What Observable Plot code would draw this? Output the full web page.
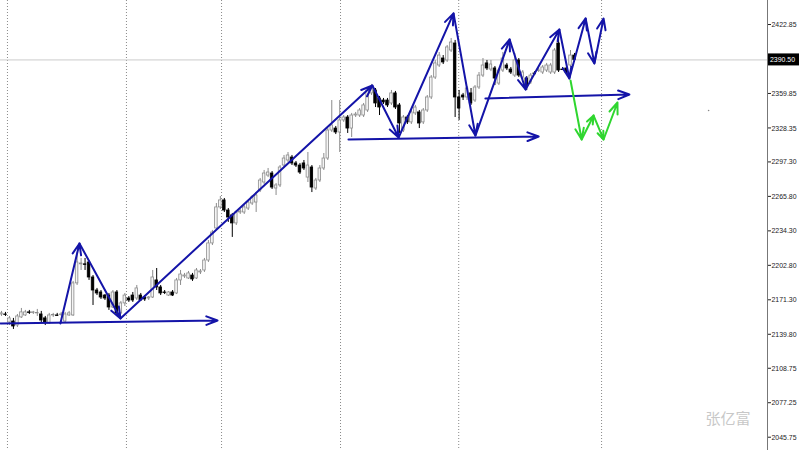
<!DOCTYPE html>
<html>
<head>
<meta charset="utf-8">
<script src="https://cdn.jsdelivr.net/npm/d3@7"></script>
<script src="https://cdn.jsdelivr.net/npm/@observablehq/plot@0.6"></script>
<style>
  html, body { margin: 0; padding: 0; background: #ffffff; overflow: hidden; }
  svg { display: block; }
</style>
</head>
<body>
<div id="chart"></div>
<script>
// ---- candle data (OHLC) ----
const open = [2157.9,2157.9,2150.6,2151.5,2147.8,2155.2,2157.0,2159.8,2159.3,2158.9,2157.9,2154.3,2149.7,2157.0,2157.0,2157.5,2151.5,2157.0,2157.0,2186.3,
2203.7,2203.7,2205.4,2191.7,2179.8,2178.0,2175.2,2175.2,2164.3,2178.0,2158.9,2168.0,2172.5,2175.2,2172.5,2175.2,2173.4,2172.5,2173.4,2189.0,
2182.6,2178.0,2175.2,2178.0,2177.1,2189.0,2192.6,2190.8,2193.5,2190.8,2196.3,2198.1,2207.2,2222.8,2236.5,2255.7,2262.1,2252.9,2248.4,2241.1,
2251.1,2251.1,2254.7,2259.3,2260.2,2271.2,2278.5,2284.8,2286.7,2273.0,2275.8,2294.0,2298.6,2301.3,2295.9,2294.0,2295.9,2283.0,2292.2,2273.0,
2280.3,2291.3,2300.4,2326.0,2327.8,2324.2,2335.2,2337.9,2327.8,2339.7,2339.7,2339.7,2344.3,2359.9,2362.6,2355.3,2353.4,2353.4,2350.7,2359.9,
2348.9,2326.0,2337.9,2333.4,2341.6,2342.5,2333.4,2344.3,2356.2,2374.4,2385.4,2391.8,2390.0,2399.1,2405.5,2356.2,2358.0,2356.2,2359.9,2353.4,
2365.3,2376.2,2387.3,2381.7,2382.7,2368.9,2380.8,2385.4,2381.7,2376.2,2390.0,2374.4,2373.5,2369.9,2378.1,2380.4,2379.0,2380.8,2379.0,2379.0,
2405.5,2381.7,2382.7,2385.4,2394.5];
const close = [2158.9,2157.5,2154.3,2146.9,2156.1,2159.8,2159.8,2159.3,2159.8,2159.2,2152.4,2150.6,2157.0,2157.5,2156.6,2157.9,2157.9,2158.9,2186.3,2205.4,
2204.5,2203.2,2191.7,2179.8,2177.1,2173.4,2172.5,2164.3,2178.0,2158.9,2168.0,2175.2,2170.7,2170.7,2181.7,2170.7,2171.6,2173.4,2191.7,2182.6,
2177.1,2177.5,2178.0,2175.2,2189.0,2194.4,2193.5,2195.4,2189.9,2198.1,2197.2,2207.2,2222.8,2232.8,2255.7,2262.1,2252.9,2246.5,2241.1,2251.1,
2252.0,2255.7,2260.2,2264.8,2266.6,2280.3,2286.7,2287.6,2273.9,2275.8,2292.2,2300.4,2303.2,2295.9,2294.0,2287.6,2291.3,2294.0,2273.9,2280.3,
2291.3,2300.4,2326.0,2330.6,2324.2,2335.2,2337.9,2327.8,2339.7,2340.6,2344.3,2348.9,2362.6,2365.3,2350.7,2347.0,2351.6,2348.9,2359.9,2347.0,
2332.4,2337.9,2333.4,2342.5,2347.0,2332.4,2344.3,2356.2,2374.4,2387.3,2394.5,2388.2,2401.9,2406.4,2356.2,2346.1,2356.2,2364.4,2350.7,2365.3,
2376.2,2385.4,2382.7,2386.3,2373.5,2380.8,2391.8,2382.7,2379.0,2390.0,2376.2,2379.0,2367.1,2376.2,2377.6,2380.8,2383.6,2385.4,2385.4,2399.1,
2380.8,2381.2,2379.0,2394.5,2390.5];
const high = [2160.7,2159.8,2156.1,2154.3,2157.9,2163.4,2161.6,2161.6,2160.7,2162.5,2160.7,2156.1,2158.9,2158.9,2158.9,2159.8,2159.8,2160.7,2188.1,2214.6,
2209.1,2209.1,2207.2,2193.5,2181.7,2179.8,2176.1,2177.1,2179.8,2179.8,2169.8,2177.1,2174.3,2178.0,2184.4,2177.1,2175.2,2174.3,2198.1,2199.9,
2184.4,2179.8,2178.9,2179.8,2190.8,2198.1,2195.4,2197.2,2195.4,2199.9,2199.0,2209.1,2225.5,2234.7,2259.3,2265.7,2263.9,2254.7,2250.2,2252.9,
2253.8,2257.5,2262.1,2266.6,2269.3,2282.2,2289.5,2291.3,2288.5,2277.6,2294.0,2303.2,2305.9,2303.2,2297.7,2295.9,2298.6,2305.9,2294.0,2282.2,
2294.0,2305.0,2327.8,2353.4,2329.7,2353.4,2339.7,2339.7,2341.6,2342.5,2346.1,2350.7,2364.4,2368.1,2364.4,2357.1,2355.3,2355.3,2362.6,2361.7,
2350.7,2339.7,2339.7,2344.3,2348.9,2344.3,2346.1,2358.0,2376.2,2390.0,2397.3,2394.5,2403.7,2410.1,2408.3,2362.6,2359.9,2366.2,2364.4,2367.1,
2379.0,2391.8,2390.0,2390.0,2384.5,2382.7,2397.3,2387.3,2383.6,2396.4,2391.8,2380.8,2375.3,2378.1,2379.9,2382.7,2385.4,2387.3,2387.3,2400.9,
2412.8,2383.6,2384.5,2399.1,2396.4];
const low = [2156.1,2156.1,2147.8,2144.2,2146.0,2154.3,2156.1,2157.9,2157.9,2156.1,2149.7,2147.8,2148.8,2155.2,2156.1,2156.1,2149.7,2156.1,2156.1,2184.4,
2198.1,2198.1,2189.0,2166.1,2175.2,2171.6,2170.7,2161.6,2163.4,2156.1,2157.9,2165.2,2168.9,2168.9,2170.7,2169.8,2169.8,2170.7,2172.5,2179.8,
2175.2,2176.1,2174.3,2174.3,2176.1,2184.4,2190.8,2189.9,2188.1,2189.9,2194.4,2196.3,2205.4,2220.9,2234.7,2253.8,2251.1,2242.0,2228.3,2239.2,
2249.3,2249.3,2252.9,2257.5,2251.1,2269.3,2276.7,2283.0,2272.1,2266.6,2273.9,2292.2,2296.8,2294.0,2292.2,2285.8,2289.5,2278.5,2269.3,2271.2,
2278.5,2289.5,2298.6,2324.2,2322.3,2305.9,2333.4,2323.3,2319.6,2337.9,2337.9,2337.9,2342.5,2358.0,2347.0,2339.7,2349.8,2347.0,2348.9,2345.2,
2323.3,2324.2,2331.5,2331.5,2339.7,2327.8,2331.5,2342.5,2354.3,2372.6,2383.6,2386.3,2388.2,2397.3,2337.9,2335.2,2353.4,2353.4,2348.9,2351.6,
2363.5,2374.4,2380.8,2379.8,2367.1,2367.1,2379.0,2380.8,2377.2,2374.4,2374.4,2372.6,2362.6,2368.1,2376.2,2379.0,2377.2,2379.0,2377.2,2377.2,
2379.0,2380.8,2376.2,2383.6,2388.2];

// ---- drawn objects (bar index, price) ----
const zigzag = [[14.8,2149.7],[19.6,2222.8],[29.9,2154.3],[93.2,2367.1],[99.8,2319.6],[113.6,2433.0],[119.1,2321.4],
  [127.7,2409.2],[131.7,2363.5],[140.2,2418.3],[142.7,2373.5],[146.8,2428.4],[149.0,2387.3],[151.3,2428.4]];
const greenPath = [[143.0,2371.7],[145.8,2317.8],[148.8,2339.7],[151.3,2317.8],[154.8,2351.6]];
const levelLines = [[-0.25,2149.7,54.3,2152.4],[87.2,2317.8,135.0,2320.5],[121.6,2355.3,157.8,2358.9]];
const sessionBreaks = [1.5,31.4,55.3,85.2,114.9,150.8];
const strayDot = [[177.7,2344.3]];
const currentPrice = 2390.50;
const yTicks = [2422.85,2359.85,2328.35,2297.30,2265.80,2234.30,2202.80,2171.30,2139.80,2108.75,2077.25,2045.75];
const watermark = ["张亿富"];
const xDomain = [-0.25, 192.5];
const yDomain = [2033.6, 2444.8];

// ---- build tables ----
const candles = open.map((o, i) => ({i, o, c: close[i], h: high[i], l: low[i]}));
const isUp = d => d.c >= d.o;
const toSegs = pts => pts.slice(1).map((p, k) => ({x1: pts[k][0], y1: pts[k][1], x2: p[0], y2: p[1]}));
const levelSegs = levelLines.map(([x1, y1, x2, y2]) => ({x1, y1, x2, y2}));
const BLUE = "#1414a8";
const GREEN = "#2fd62f";
const arrowOpts = {x1: "x1", y1: "y1", x2: "x2", y2: "y2", strokeWidth: 2, headLength: 9, headAngle: 42};

const chart = Plot.plot({
  width: 800,
  height: 450,
  marginLeft: 0,
  marginRight: 33,
  marginTop: 0,
  marginBottom: 0,
  style: {fontFamily: "Liberation Sans, DejaVu Sans, sans-serif", fontSize: "8px", background: "#ffffff"},
  x: {domain: xDomain, axis: null},
  y: {domain: yDomain, axis: null},
  marks: [
    Plot.ruleX(sessionBreaks, {stroke: "#8a8a8a", strokeDasharray: "1,2", strokeWidth: 1}),
    Plot.ruleY([currentPrice], {stroke: "#cccccc", strokeWidth: 1}),
    Plot.ruleX(candles, {x: "i", y1: "l", y2: "h", stroke: d => isUp(d) ? "#8c8c8c" : "#000000", strokeWidth: 1}),
    Plot.rect(candles, {
      x1: d => d.i - 0.32, x2: d => d.i + 0.32, y1: "o", y2: "c",
      fill: d => isUp(d) ? "#f4f4f4" : "#000000",
      stroke: d => isUp(d) ? "#8c8c8c" : "#000000", strokeWidth: 0.8
    }),
    Plot.arrow(levelSegs, {...arrowOpts, stroke: BLUE, ariaLabel: "blue-arrow"}),
    Plot.arrow(toSegs(zigzag), {...arrowOpts, stroke: BLUE, ariaLabel: "blue-arrow"}),
    Plot.arrow(toSegs(greenPath), {...arrowOpts, stroke: GREEN, ariaLabel: "green-arrow"}),
    Plot.dot(strayDot, {x: d => d[0], y: d => d[1], r: 0.8, fill: "#888888", stroke: null}),
    Plot.ruleX([xDomain[1]], {stroke: "#777777", strokeWidth: 1}),
    Plot.axisY(yTicks, {anchor: "right", tickSize: 3, tickPadding: 1, tickFormat: d => d.toFixed(2), color: "#222222", label: null, fontSize: 8}),
    Plot.text(watermark, {text: d => d, frameAnchor: "bottom-right", dx: -17, dy: -27, textAnchor: "end", lineAnchor: "bottom", fill: "#c8c8c8", fontSize: 15, fontFamily: "Noto Sans CJK SC"})
  ]
});

document.getElementById("chart").appendChild(chart);
const svg = d3.select(chart);

// fill the arrow heads like the terminal's drawn arrows
svg.selectAll('g[aria-label="blue-arrow"] path').attr("fill", BLUE);
svg.selectAll('g[aria-label="green-arrow"] path').attr("fill", GREEN);

// narrow terminal-like tick labels
svg.selectAll('g[aria-label="y-axis tick label"] text')
  .attr("textLength", 25).attr("lengthAdjust", "spacingAndGlyphs");

// current price tag on the price axis, positioned by Plot's own scales
const yp = chart.scale("y").apply(currentPrice);
const xr = chart.scale("x").apply(xDomain[1]);
const tag = svg.append("g").attr("aria-label", "price-tag");
tag.append("rect").attr("x", xr + 1).attr("y", yp - 6).attr("width", 31).attr("height", 12).attr("fill", "#000000");
tag.append("text").attr("x", xr + 3).attr("y", yp).attr("dy", "0.32em")
  .attr("text-anchor", "start")
  .attr("fill", "#ffffff").attr("font-size", 8).attr("font-family", "Liberation Sans, DejaVu Sans, sans-serif")
  .attr("textLength", 25).attr("lengthAdjust", "spacingAndGlyphs")
  .text(currentPrice.toFixed(2));
</script>
</body>
</html>
